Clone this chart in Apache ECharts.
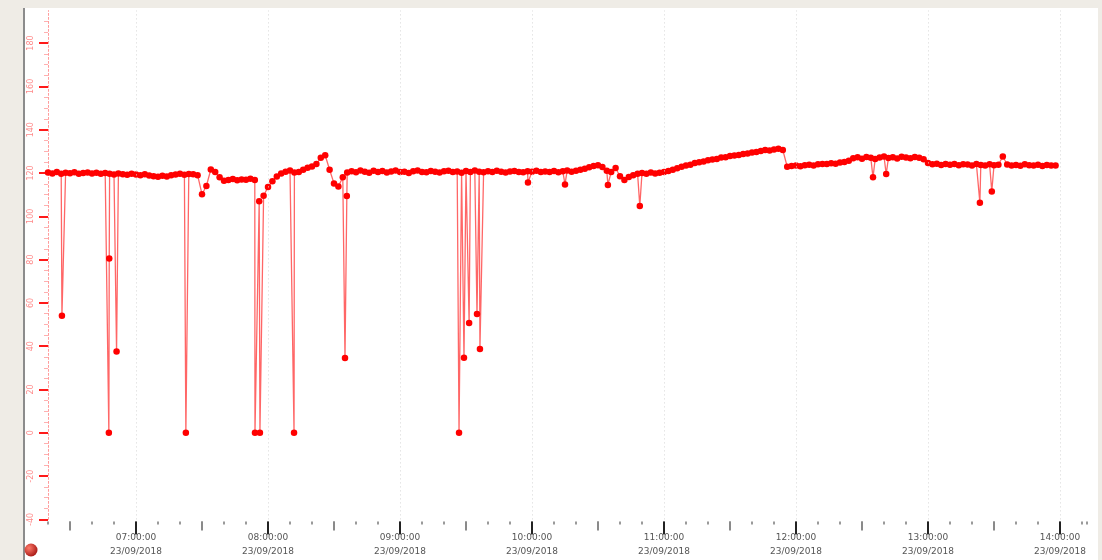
<!DOCTYPE html>
<html lang="en">
<head>
<meta charset="UTF-8">
<title>Value trend 23/09/2018</title>
<script src="https://cdn.jsdelivr.net/npm/echarts@6/dist/echarts.min.js"></script>
<style>
    body{
        margin:0;
        background:#efece6;
    }
    .frame{
        position:absolute;
        left:23px; top:8px;
        width:1073px; height:552px;
        background:#fff;
        border-left:2px solid #8c8c8c;
    }
    #chart{
        position:absolute;
        left:0; top:0;
        width:1102px; height:560px;
    }
</style>
</head>
<body>
<div class="frame"></div>
<div id="chart"></div>
<script type="text/javascript">
// samples every 2 minutes starting 06:20
var sampleStart = '06:20';
var sampleStepMin = 2;
var levelValues = [
    120.2,119.8,120.4,119.6,120.1,119.9,120.3,119.7,120.0,120.2,119.8,120.1,119.6,120.0,
    119.6,119.3,119.8,119.4,119.2,119.6,119.3,119.0,119.4,
    118.8,118.5,118.3,118.7,118.4,118.9,
    119.3,119.6,119.2,119.5,119.4,119.0,
    110.2,114.0,121.6,120.4,118.0,116.4,116.8,117.2,116.6,117.0,116.9,117.3,
    116.8,107.0,109.5,113.5,116.2,118.4,119.8,120.6,121.2,120.2,
    120.4,121.5,122.4,123.0,124.2,127.0,128.2,121.5,115.2,113.8,118.0,120.2,
    120.8,120.3,121.2,120.6,120.1,121.0,120.5,120.9,120.2,120.7,
    121.1,120.4,120.6,120.0,120.8,121.2,120.5,120.3,120.9,120.6,
    120.2,120.8,121.0,120.4,120.7,120.1,120.9,120.5,121.1,120.6,
    120.3,120.8,120.4,121.0,120.6,120.2,120.7,120.9,120.5,120.3,
    120.8,120.6,121.0,120.4,120.7,120.5,120.9,120.3,120.8,121.2,
    120.6,121.0,
    121.5,122.0,122.6,123.2,123.6,122.8,121.0,120.5,122.3,118.5,
    116.8,118.2,119.0,119.6,120.0,119.6,120.2,119.8,120.1,
    120.4,120.9,121.5,122.2,122.9,123.4,123.8,124.6,124.9,125.3,
    125.9,126.2,126.5,127.1,127.3,127.9,128.1,128.3,128.8,129.0,
    129.5,129.7,130.1,130.6,130.4,130.9,131.2,130.6,
    122.9,123.2,123.4,123.1,123.6,123.8,123.5,124.0,124.2,124.1,
    124.5,124.3,124.8,125.1,125.6,
    126.8,127.3,126.6,127.4,127.0,126.5,127.2,127.6,126.9,127.3,
    126.7,127.5,127.1,126.8,127.4,127.0,126.4,
    124.6,124.0,124.3,123.7,124.1,123.8,124.2,123.6,124.0,123.9,
    123.5,124.1,123.7,123.4,124.0,123.6,123.8,127.6,123.9,123.5,
    123.7,123.3,124.0,123.6,123.4,123.8,123.2,123.7,123.5,123.4
];

// isolated drop-outs between samples
var spikeTimes = [
    '06:26:20','06:47:40','06:47:50','06:51:10','07:22:40','07:54:05','07:56:20',
    '08:11:50','08:35:00','08:35:50','09:26:50','09:29:05','09:31:25','09:35:00',
    '09:36:20','09:58:10','10:15:00','10:34:30','10:49:00','12:35:00','12:41:00',
    '13:23:35','13:29:00'
];
var spikeValues = [
    54.1, 0, 80.5, 37.6, 0, 0, 0,
    0, 34.5, 109.4, 0, 34.7, 50.7, 54.9,
    38.7, 115.6, 114.7, 114.5, 104.8, 118.0, 119.5,
    106.3, 111.5
];

var dateLabel = '23/09/2018';
var hourTicks = ['07:00','08:00','09:00','10:00','11:00','12:00','13:00','14:00'];
var halfHourTicks = ['06:30','07:30','08:30','09:30','10:30','11:30','12:30','13:30'];
var yTickValues = [-40,-20,0,20,40,60,80,100,120,140,160,180];
var axisStart = '06:20';
var axisEnd = '14:12';

function toMin(s) {
    var p = s.split(':');
    return (+p[0]) * 60 + (+p[1]) + (p[2] ? (+p[2]) / 60 : 0);
}
function toHMS(m) {
    var h = Math.floor(m / 60), mm = Math.round(m - h * 60);
    return (h < 10 ? '0' : '') + h + ':' + (mm < 10 ? '0' : '') + mm + ':00';
}

var points = [];
var t0 = toMin(sampleStart);
levelValues.forEach(function(v, i) {
    points.push([t0 + i * sampleStepMin, v]);
});
spikeTimes.forEach(function(t, i) {
    points.push([toMin(t), spikeValues[i]]);
});
points.sort(function(a, b) { return a[0] - b[0]; });

var xMin = toMin(axisStart), xMax = toMin(axisEnd);
var gridBox = { left: 48, right: 15.6, top: 10.6, bottom: 40.6 };

function hiddenY(idx) {
    return { type: 'value', gridIndex: idx, min: -40, max: 195, show: false };
}

var option = {
    animation: false,
    grid: [
        Object.assign({}, gridBox),
        Object.assign({}, gridBox),
        Object.assign({}, gridBox)
    ],
    graphic: [{
        type: 'circle',
        shape: { cx: 31, cy: 550, r: 6.5 },
        style: {
            fill: new echarts.graphic.RadialGradient(0.35, 0.35, 0.8, [
                { offset: 0, color: '#ff7a6a' },
                { offset: 1, color: '#9a0a08' }
            ])
        }
    }],
    xAxis: [{
        // 10 minute dots
        type: 'value', gridIndex: 0, min: xMin, max: xMax, interval: 10,
        offset: 2,
        axisLine: { show: false, onZero: false },
        axisTick: { length: 3, lineStyle: { color: '#9a9a9a', width: 2 } },
        axisLabel: { show: false },
        splitLine: { show: false }
    }, {
        // half hour marks
        type: 'value', gridIndex: 1, min: xMin, max: xMax,
        offset: 2,
        axisLine: { show: false, onZero: false },
        axisTick: {
            customValues: halfHourTicks.map(toMin),
            length: 9, lineStyle: { color: '#8a8a8a', width: 2 }
        },
        axisLabel: { show: false },
        splitLine: { show: false }
    }, {
        // hours with labels
        type: 'value', gridIndex: 2, min: xMin, max: xMax,
        offset: 2,
        axisLine: { show: false, onZero: false },
        axisTick: {
            customValues: hourTicks.map(toMin),
            length: 13, lineStyle: { color: '#222', width: 2 }
        },
        axisLabel: {
            customValues: hourTicks.map(toMin),
            formatter: function(v) { return toHMS(v) + '\n' + dateLabel; },
            fontSize: 9, color: '#555', lineHeight: 14, margin: 9,
            fontFamily: 'DejaVu Sans'
        },
        splitLine: { show: false }
    }],
    yAxis: [{
        type: 'value', gridIndex: 0, min: -40, max: 195, interval: 20,
        axisLine: { show: true, lineStyle: { color: '#ff9c9c', type: [2, 2], width: 1 } },
        axisTick: {
            customValues: yTickValues,
            length: 9, lineStyle: { color: '#ff1a1a', width: 2 }
        },
        minorTick: { show: true, splitNumber: 4, length: 4, lineStyle: { color: '#ffb0b0', width: 1 } },
        axisLabel: {
            customValues: yTickValues,
            rotate: 90, fontSize: 8, color: '#ff8a8a', margin: 13,
            fontFamily: 'DejaVu Sans'
        },
        splitLine: { show: false }
    }, hiddenY(1), hiddenY(2)],
    series: [{
        type: 'line',
        xAxisIndex: 0, yAxisIndex: 0,
        data: points,
        symbol: 'circle',
        symbolSize: 6.5,
        showSymbol: true,
        showAllSymbol: true,
        itemStyle: { color: '#ff0000' },
        lineStyle: { color: 'rgba(255,0,0,0.6)', width: 1.3 },
        markLine: {
            silent: true,
            symbol: 'none',
            label: { show: false },
            lineStyle: { color: '#d6d6d6', type: [1, 3], width: 1 },
            data: hourTicks.map(function(h) { return { xAxis: toMin(h) }; })
        }
    }]
};

var myChart = echarts.init(document.getElementById('chart'));
myChart.setOption(option);
</script>
</body>
</html>
